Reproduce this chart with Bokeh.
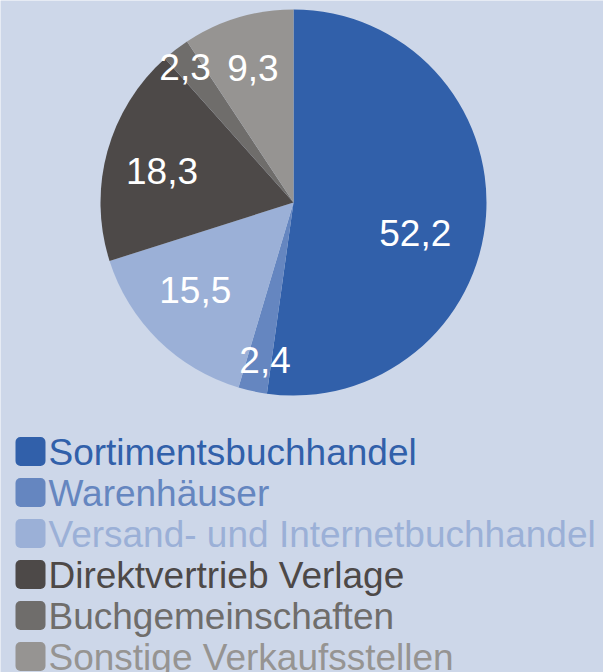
import math
from bokeh.plotting import figure
from bokeh.models import Range1d, ColumnDataSource
from bokeh.core.properties import value
from bokeh.embed import file_html
from bokeh.resources import INLINE

# ---- data ----
categories = [
    "Sortimentsbuchhandel",
    "Warenhäuser",
    "Versand- und Internetbuchhandel",
    "Direktvertrieb Verlage",
    "Buchgemeinschaften",
    "Sonstige Verkaufsstellen",
]
shares = [52.2, 2.4, 15.5, 18.3, 2.3, 9.3]
share_labels = ["52,2", "2,4", "15,5", "18,3", "2,3", "9,3"]
colors = ["#3160aa", "#6586c0", "#9bb0d7", "#4d4948", "#6f6d6b", "#969492"]

# ---- layout / style ----
BG = "#cdd7e9"
W, H = 603, 672
CX, CY = 293, H - 202      # pie centre (data units = px)
R = 193
label_r = [0.65, 0.83, 0.68, 0.70, 0.90, 0.73]
label_nudge_deg = [10, -2, 4, -2, -1, 0]
FONT = "Liberation Sans"

p = figure(width=W, height=H, x_range=Range1d(0, W), y_range=Range1d(0, H),
           output_backend="svg", toolbar_location=None, min_border=0)
p.axis.visible = False
p.grid.visible = False
p.outline_line_color = None
p.background_fill_color = BG
p.border_fill_color = BG

total = sum(shares)
starts, ends, lx, ly = [], [], [], []
cum = 0.0
for i, v in enumerate(shares):
    a0 = math.pi / 2 - 2 * math.pi * cum / total
    cum += v
    a1 = math.pi / 2 - 2 * math.pi * cum / total
    starts.append(a0)
    ends.append(a1)
    mid = (a0 + a1) / 2 - math.radians(label_nudge_deg[i])
    lx.append(CX + label_r[i] * R * math.cos(mid))
    ly.append(CY + label_r[i] * R * math.sin(mid))

src = ColumnDataSource(dict(start=starts, end=ends, color=colors,
                            lx=lx, ly=ly, lab=share_labels))
p.wedge(x=CX, y=CY, radius=R, start_angle="start", end_angle="end",
        direction="clock", fill_color="color", line_color=None, source=src)
p.text(x="lx", y="ly", text="lab", source=src, text_color="white",
       text_font=value(FONT), text_font_size="37px",
       text_align="center", text_baseline="middle")

# ---- legend ----
row0 = 451
step = 41
leg_y = [H - (row0 + step * i) for i in range(len(categories))]
leg_src = ColumnDataSource(dict(y=leg_y, ty=[y - 1 for y in leg_y],
                                name=categories, color=colors))
p.rect(x=30, y="y", width=30, height=29, fill_color="color", line_color=None,
       border_radius=5, source=leg_src)
p.text(x=48, y="ty", text="name", text_color="color", source=leg_src,
       text_font=value(FONT), text_font_size="37px",
       text_align="left", text_baseline="middle")

open("out.html", "w").write(file_html(p, INLINE))
